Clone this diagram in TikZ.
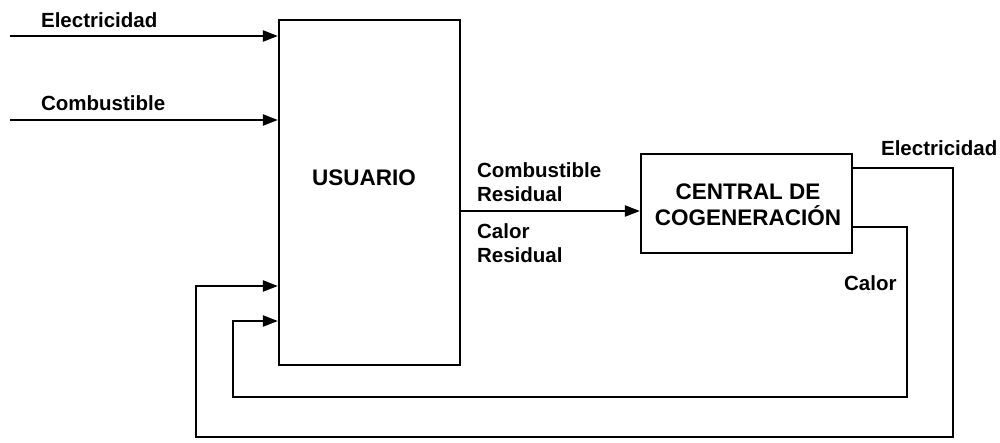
\documentclass[tikz,border=0pt]{standalone}
\usepackage{fontspec}
\setmainfont{Liberation Sans}
\usetikzlibrary{arrows.meta}
\begin{document}
\begin{tikzpicture}[x=1pt,y=-1pt,
  line width=2.2pt,
  arr/.style={-{Triangle[length=15pt,width=11pt]}},
  boxnode/.style={draw,line width=2.2pt,inner sep=0pt},
  lbl/.style={inner sep=0pt,font=\fontsize{20.5}{24.5}\selectfont\bfseries},
  boxtext/.style={inner sep=0pt,align=center,font=\fontsize{22.5}{26}\selectfont\bfseries},
]
\useasboundingbox (0,0) rectangle (1000,442);
\node[boxnode,minimum width=181pt,minimum height=345pt] (usuario) at (369.5,192.5) {};
\node[boxtext] (ut) at (364,178) {USUARIO};
\node[boxnode,minimum width=211pt,minimum height=99pt] (central) at (746.5,203.5) {};
\node[boxtext] (ct) at (748,205) {CENTRAL DE\\COGENERACIÓN};
\coordinate (e1) at (10,36);
\coordinate (c1) at (10,120);
\draw[arr] (e1) -- (usuario.west |- e1);
\draw[arr] (c1) -- (usuario.west |- c1);
\node[lbl,anchor=west] (le1) at (40,20) {Electricidad};
\node[lbl,anchor=west] (lc1) at (40,103) {Combustible};
\draw[arr] (usuario.east |- 0,211) -- (central.west |- 0,211);
\node[lbl,anchor=west,align=left] (lcr) at (476,182) {Combustible\\Residual};
\node[lbl,anchor=west,align=left] (lkr) at (476,243) {Calor\\Residual};
\draw[arr] (central.east |- 0,168) -- (953,168) -- (953,437) -- (196,437) -- (196,286) -- (usuario.west |- 0,286);
\draw[arr] (central.east |- 0,227) -- (907,227) -- (907,397) -- (233,397) -- (233,321) -- (usuario.west |- 0,321);
\node[lbl,anchor=west] (le2) at (880,148) {Electricidad};
\node[lbl,anchor=west] (lk2) at (843,283) {Calor};
\end{tikzpicture}
\end{document}
